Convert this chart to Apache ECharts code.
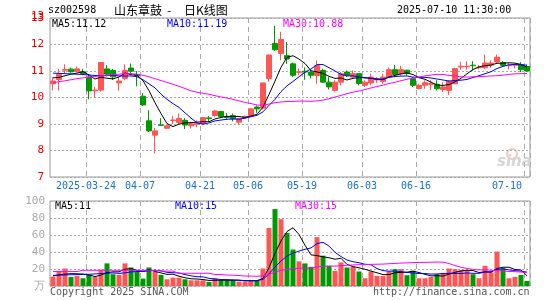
<!DOCTYPE html>
<html><head><meta charset="utf-8">
<script src="https://cdn.jsdelivr.net/npm/echarts@6.0.0/dist/echarts.min.js"></script>
<style>html,body{margin:0;padding:0;background:#fff}#c{width:545px;height:300px}</style>
</head><body><div id="c"></div>
<script>
const dates = ["2025-03-14","2025-03-17","2025-03-18","2025-03-19","2025-03-20","2025-03-21","2025-03-24","2025-03-25","2025-03-26","2025-03-27","2025-03-28","2025-03-31","2025-04-01","2025-04-02","2025-04-03","2025-04-07","2025-04-08","2025-04-09","2025-04-10","2025-04-11","2025-04-14","2025-04-15","2025-04-16","2025-04-17","2025-04-18","2025-04-21","2025-04-22","2025-04-23","2025-04-24","2025-04-25","2025-04-28","2025-04-29","2025-04-30","2025-05-06","2025-05-07","2025-05-08","2025-05-09","2025-05-12","2025-05-13","2025-05-14","2025-05-15","2025-05-16","2025-05-19","2025-05-20","2025-05-21","2025-05-22","2025-05-23","2025-05-26","2025-05-27","2025-05-28","2025-05-29","2025-05-30","2025-06-03","2025-06-04","2025-06-05","2025-06-06","2025-06-09","2025-06-10","2025-06-11","2025-06-12","2025-06-13","2025-06-16","2025-06-17","2025-06-18","2025-06-19","2025-06-20","2025-06-23","2025-06-24","2025-06-25","2025-06-26","2025-06-27","2025-06-30","2025-07-01","2025-07-02","2025-07-03","2025-07-04","2025-07-07","2025-07-08","2025-07-09","2025-07-10"];
const labelDates = ["2025-03-24","2025-04-07","2025-04-21","2025-05-06","2025-05-19","2025-06-03","2025-06-16","2025-07-10"];
const priceTicks = [7,8,9,10,11,12,13];
const volumeTicks = [0,20,40,60,80,100];

const opens  = [10.52,10.68,11.03,11.07,10.99,10.97,10.77,10.25,10.28,11.08,11.02,10.55,10.72,11.11,10.87,10.05,9.12,8.58,8.96,8.84,9.13,9.06,9.14,8.93,8.99,9.01,9.23,9.32,9.47,9.28,9.32,9.07,9.26,9.32,9.64,9.60,10.72,12.04,11.66,11.58,11.27,10.95,10.99,10.96,10.83,11.02,10.58,10.27,10.58,10.96,10.77,10.90,10.46,10.55,10.66,10.60,10.77,11.05,10.90,11.03,10.71,10.34,10.46,10.50,10.50,10.30,10.27,10.52,11.15,11.16,11.22,11.12,11.12,11.22,11.34,11.32,11.20,11.22,11.24,11.17];
const closes = [10.62,10.88,11.06,10.97,11.08,10.90,10.25,10.28,11.32,10.88,10.78,10.62,11.02,10.99,10.82,9.72,8.74,8.74,8.95,8.93,9.15,9.21,8.96,9.01,9.02,9.24,9.20,9.49,9.28,9.25,9.20,9.20,9.29,9.57,9.57,10.55,11.60,11.80,12.19,11.45,10.84,10.97,10.96,10.84,11.21,10.58,10.40,10.58,10.90,10.84,10.90,10.53,10.58,10.77,10.71,10.77,11.05,10.87,11.05,10.90,10.46,10.46,10.56,10.53,10.33,10.40,10.62,11.09,11.18,11.18,11.20,11.14,11.30,11.30,11.52,11.21,11.22,11.24,11.05,11.00];
const highs  = [10.77,11.08,11.25,11.13,11.17,11.08,10.85,10.40,11.32,11.22,11.08,10.78,11.25,11.28,11.00,10.16,9.52,8.85,9.22,8.95,9.30,9.40,9.22,9.08,9.14,9.27,9.30,9.52,9.50,9.41,9.40,9.22,9.32,9.60,9.70,10.56,11.62,12.70,12.48,12.09,11.32,11.10,11.14,11.04,11.40,11.09,10.77,10.65,10.96,11.02,11.02,10.92,10.65,10.90,10.77,10.90,11.13,11.22,11.20,11.05,10.77,10.52,10.65,10.65,10.65,10.58,10.65,11.12,11.35,11.37,11.37,11.22,11.62,11.40,11.62,11.37,11.30,11.27,11.33,11.24];
const lows   = [10.27,10.27,10.92,10.93,10.95,10.84,9.93,9.98,10.22,10.80,10.66,10.25,10.65,10.86,10.42,9.68,8.70,7.89,8.93,8.81,9.00,9.00,8.81,8.83,8.88,8.99,9.10,9.28,9.24,9.15,9.10,8.98,9.22,9.29,9.42,9.55,10.60,11.76,11.41,11.27,10.78,10.84,10.67,10.72,10.52,10.56,10.30,10.22,10.45,10.77,10.71,10.46,10.40,10.46,10.55,10.52,10.74,10.77,10.83,10.83,10.39,10.30,10.33,10.27,10.27,10.21,10.10,10.50,11.05,11.05,11.02,11.06,11.08,11.12,11.27,11.15,11.06,11.10,10.96,10.96];
const volumes = [11,17.9,20.6,10.7,11.9,9.1,13.1,10.7,19.0,26.6,13.9,13.1,26.6,21.8,16.7,8.7,21.8,16.7,13.1,7.9,9.9,9.9,7.9,6.7,6.7,6.7,4.8,9.0,6.7,6.7,6.7,5.2,5.2,6.7,6.7,20.6,68.3,90.5,78.6,62.3,42.9,29.0,26.6,22.6,57.5,35.7,23.8,17.9,27.8,21.8,22.6,17.1,9.1,17.1,11.9,11.9,17.1,19.8,19.8,12.7,17.9,9.1,9.1,10.7,13.9,15.5,20.6,19.8,18.7,17.9,13.9,9.1,23.8,15.9,40.5,21.0,9.1,10.7,13.1,6.0];

// moving-average values at the left edge (their windows start before the shown range)
const ma5Head  = [10.74,10.76,10.82,10.88];
const ma10Head = [10.92,10.91,10.90,10.89,10.88,10.87,10.85,10.83,10.82];
const ma30Head = [10.56,10.60,10.63,10.67,10.71,10.74,10.77,10.79,10.82,10.84,10.86,10.88,10.90,10.90,10.88,10.84,10.78,10.71,10.64,10.57,10.50,10.42,10.34,10.25,10.20,10.16,10.12,10.07,10.02];
const vma5Head  = [12,13,14,14.5];
const vma10Head = [12.5,12.8,13.0,13.2,13.4,13.6,13.8,14.2,14.6];
const vma30Head = [17,17,17,17,17,18.5,18.5,18.5,18.5,18.5,18.5,18.5,18.5,18.5,18.5,18.5,18.5,18.5,17.5,17.5,17.5,15,15,15,15,15,15,13.5,13.5];

const maTexts = ["MA5:11.12","MA10:11.19","MA30:10.88"];
const vmaTexts = ["MA5:11","MA10:15","MA30:15"];

function movingAvg(arr, n, head){
  return arr.map((v,i)=>{
    if(i < n-1) return head[i];
    let s=0; for(let k=i-n+1;k<=i;k++) s+=arr[k];
    return +(s/n).toFixed(3);
  });
}

const RED='#ff5555', GREEN='#009900';
const MONO='"DejaVu Sans Mono", monospace';
const kData = dates.map((d,i)=>[opens[i],closes[i],lows[i],highs[i]]);
const volData = volumes.map((v,i)=>({value:v,itemStyle:{color: closes[i]>=opens[i]?RED:GREEN}}));
const isLabel = (i)=> labelDates.indexOf(dates[i])>=0;
const topPrice = priceTicks[priceTicks.length-1];

const chart = echarts.init(document.getElementById('c'), null, {renderer:'canvas'});
const dashV = {show:true, interval:(i)=>isLabel(i), lineStyle:{color:'#aaa', type:[5,4], width:1}};
const dotH = {show:true, lineStyle:{color:'#aaa', type:[2,2], width:1}};

chart.setOption({
  animation:false,
  backgroundColor:'#fff',
  grid:[
    {left:50,right:15,top:18,height:159,show:true,borderColor:'#999',borderWidth:1,backgroundColor:'transparent'},
    {left:50,right:15,top:201,height:85,show:true,borderColor:'#999',borderWidth:1,backgroundColor:'transparent'}
  ],
  xAxis:[
    {type:'category',gridIndex:0,data:dates,boundaryGap:true,
     axisLine:{show:false},axisTick:{show:false},
     axisLabel:{interval:(i)=>isLabel(i),margin:4,fontFamily:MONO,fontSize:10,color:'#1874cd',
       formatter:(v,i)=> i===6 ? '{a|'+v+'}' : (i===dates.length-1 ? '{b|'+v.slice(5)+'}' : '{a|'+v.slice(5)+'}'),
       rich:{a:{padding:[0,6,0,0],fontFamily:MONO,fontSize:10,color:'#1874cd'},b:{padding:[0,40,0,0],fontFamily:MONO,fontSize:10,color:'#1874cd'}}},
     splitLine:dashV},
    {type:'category',gridIndex:1,data:dates,boundaryGap:true,
     axisLine:{show:false},axisTick:{show:false},axisLabel:{show:false},splitLine:dashV}
  ],
  yAxis:[
    {type:'value',gridIndex:0,min:7,max:13,interval:1,axisLine:{show:false},axisTick:{show:false},
     axisLabel:{customValues:priceTicks,color:'#ee0000',fontFamily:MONO,fontSize:11,margin:6,showMaxLabel:true,showMinLabel:true,hideOverlap:false},splitLine:dotH},
    {type:'value',gridIndex:1,min:0,max:100,interval:20,axisLine:{show:false},axisTick:{show:false},
     axisLabel:{customValues:volumeTicks,color:'#aaa',fontFamily:MONO,fontSize:11,margin:5,showMaxLabel:true,showMinLabel:true,hideOverlap:false,formatter:(v)=> v===0?'万':String(v)},splitLine:dotH}
  ],
  series:[
    {type:'candlestick',xAxisIndex:0,yAxisIndex:0,data:kData,barWidth:5,
     itemStyle:{color:RED,color0:GREEN,borderColor:RED,borderColor0:GREEN,borderWidth:1}},
    {type:'line',xAxisIndex:0,yAxisIndex:0,data:movingAvg(closes,5,ma5Head),showSymbol:false,lineStyle:{color:'#000',width:1},itemStyle:{color:'#000'}},
    {type:'line',xAxisIndex:0,yAxisIndex:0,data:movingAvg(closes,10,ma10Head),showSymbol:false,lineStyle:{color:'#0000ff',width:1},itemStyle:{color:'#0000ff'}},
    {type:'line',xAxisIndex:0,yAxisIndex:0,data:movingAvg(closes,30,ma30Head),showSymbol:false,lineStyle:{color:'#ff00ff',width:1},itemStyle:{color:'#ff00ff'}},
    {type:'bar',xAxisIndex:1,yAxisIndex:1,data:volData,barWidth:5},
    {type:'line',xAxisIndex:1,yAxisIndex:1,data:movingAvg(volumes,5,vma5Head),showSymbol:false,lineStyle:{color:'#000',width:1},itemStyle:{color:'#000'}},
    {type:'line',xAxisIndex:1,yAxisIndex:1,data:movingAvg(volumes,10,vma10Head),showSymbol:false,lineStyle:{color:'#0000ff',width:1},itemStyle:{color:'#0000ff'}},
    {type:'line',xAxisIndex:1,yAxisIndex:1,data:movingAvg(volumes,30,vma30Head),showSymbol:false,lineStyle:{color:'#ff00ff',width:1},itemStyle:{color:'#ff00ff'}}
  ],
  graphic:[
    {type:'text',left:48,top:5,style:{text:'sz002598',fill:'#000',font:'10px '+MONO}},
    {type:'text',left:114,top:4,style:{text:'山东章鼓',fill:'#000',font:'12px "Noto Sans CJK SC"'}},
    {type:'text',left:167,top:4,style:{text:'-',fill:'#000',font:'12px "Noto Sans CJK SC"'}},
    {type:'text',left:184,top:4,style:{text:'日K线图',fill:'#000',font:'12px "Noto Sans CJK SC"'}},
    {type:'text',left:397,top:5,style:{text:'2025-07-10 11:30:00',fill:'#000',font:'10px '+MONO}},
    {type:'text',left:31,top:11,z:100,style:{text:String(topPrice),fill:'#ee0000',font:'11px '+MONO}},
    {type:'text',left:52,top:19,style:{text:maTexts[0],fill:'#000',font:'10px '+MONO}},
    {type:'text',left:167,top:19,style:{text:maTexts[1],fill:'#0000ff',font:'10px '+MONO}},
    {type:'text',left:283,top:19,style:{text:maTexts[2],fill:'#ff00ff',font:'10px '+MONO}},
    {type:'text',left:55,top:201,style:{text:vmaTexts[0],fill:'#000',font:'10px '+MONO}},
    {type:'text',left:175,top:201,style:{text:vmaTexts[1],fill:'#0000ff',font:'10px '+MONO}},
    {type:'text',left:295,top:201,style:{text:vmaTexts[2],fill:'#ff00ff',font:'10px '+MONO}},
    {type:'text',left:50,top:287,style:{text:'Copyright 2025 SINA.COM',fill:'#555',font:'10px '+MONO}},
    {type:'text',left:373,top:287,style:{text:'http://finance.sina.com.cn',fill:'#555',font:'10px '+MONO}},
    {type:'text',left:497,top:155,style:{text:'sina',fill:'#d6d6d6',font:'italic bold 15px "DejaVu Sans"'}},
    {type:'circle',shape:{cx:512,cy:154,r:5},style:{fill:'none',stroke:'#f0c8c8',lineWidth:2}}
  ]
});
</script></body></html>
